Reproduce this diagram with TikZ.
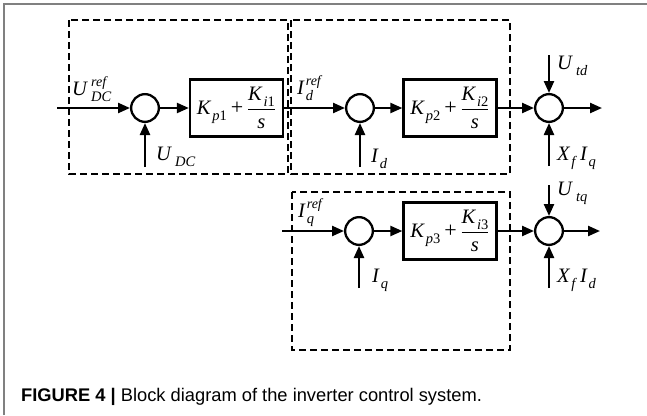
\documentclass[tikz,border=0pt]{standalone}
\usepackage{fontspec}
\setmainfont{Liberation Serif}
\newfontfamily\capfont{Liberation Sans}
\usetikzlibrary{arrows.meta}
\newcommand\sbs[1]{\raisebox{-0.3em}{\fontsize{14.5}{15}\selectfont #1}}
\newcommand\sps[1]{\raisebox{0.42em}{\fontsize{14}{15}\selectfont #1}}
\newcommand\blkexpr[2]{\textit{K}\sbs{\kern1pt\textit{p}#1}\kern4pt{\fontsize{22}{22}\selectfont +}\kern3.5pt$\displaystyle\frac{\hbox{\textit{K}\sbs{\kern1pt\textit{i}#2}}}{\hbox{\textit{s}}}$}
\begin{document}
\begin{tikzpicture}[x=1pt,y=-1pt,
  sumnode/.style={circle,draw,line width=2.3pt,minimum size=27.7pt,inner sep=0pt},
  blk/.style={draw,line width=2.3pt,minimum width=93pt,minimum height=57pt,inner sep=0pt,font=\fontsize{20.5}{23}\selectfont},
  sig/.style={line width=2.3pt,-{Triangle[length=12pt,width=10pt]}},
  grp/.style={draw,line width=2.2pt,dash pattern=on 7pt off 4pt},
  lbl/.style={anchor=base west,inner sep=0pt,font=\fontsize{20.5}{22}\selectfont}]
\useasboundingbox (0,0) rectangle (647,415);
\draw[gray,line width=1.2pt] (4,415) -- (4,4) -- (647,4);
% groups
\draw[grp] (69,20) rectangle (288,174);
\draw[grp] (291,20) rectangle (510,174);
\draw[grp] (292,192) rectangle (510,350);
% nodes
\node[sumnode] (s1) at (145,108) {};
\node[blk] (b1) at (236.5,108) {\blkexpr{1}{1}};
\node[sumnode] (s2) at (360,108) {};
\node[blk] (b2) at (450,108) {\blkexpr{2}{2}};
\node[sumnode] (s3) at (549,108) {};
\node[sumnode] (s5) at (359,231) {};
\node[blk] (b3) at (450,231) {\blkexpr{3}{3}};
\node[sumnode] (s4) at (549,231) {};
% free ends
\coordinate (in1) at (57,108);
\coordinate (out1) at (602,108);
\coordinate (in3) at (282,231);
\coordinate (out3) at (600,231);
\coordinate (udc) at (145,167);
\coordinate (idc) at (360,167);
\coordinate (utd) at (549,55);
\coordinate (xiq) at (549,166);
\coordinate (utq) at (549,185);
\coordinate (xid) at (549,288);
\coordinate (iqc) at (359,288);
% connectors
\draw[sig] (in1) -- (s1);
\draw[sig] (s1) -- (b1);
\draw[sig] (b1) -- (s2);
\draw[sig] (s2) -- (b2);
\draw[sig] (b2) -- (s3);
\draw[sig] (s3) -- (out1);
\draw[sig] (udc) -- (s1);
\draw[sig] (idc) -- (s2);
\draw[sig] (utd) -- (s3);
\draw[sig] (xiq) -- (s3);
\draw[sig] (in3) -- (s5);
\draw[sig] (s5) -- (b3);
\draw[sig] (b3) -- (s4);
\draw[sig] (s4) -- (out3);
\draw[sig] (iqc) -- (s5);
\draw[sig] (utq) -- (s4);
\draw[sig] (xid) -- (s4);
% labels
\node[lbl] (lUref) at (72,95) {\textit{U}\kern3pt\rlap{\sps{\textit{ref}}}\sbs{\textit{DC}}};
\node[lbl] (lUdc) at (156,160) {\textit{U}\kern3pt\sbs{\textit{DC}}};
\node[lbl] (lIdref) at (297,94) {\textit{I}\kern1pt\rlap{\sbs{\textit{d}}}\sps{\textit{ref}}};
\node[lbl] (lId) at (371,162) {\textit{I}\kern1pt\sbs{\textit{d}}};
\node[lbl] (lUtd) at (557,69) {\textit{U}\kern3pt\sbs{\textit{td}}};
\node[lbl] (lXIq) at (557,160) {\textit{X}\kern1pt\sbs{\textit{f}}\kern3pt\textit{I}\kern1pt\sbs{\textit{q}}};
\node[lbl] (lIqref) at (298,217) {\textit{I}\kern1pt\rlap{\sbs{\textit{q}}}\sps{\textit{ref}}};
\node[lbl] (lIq) at (372,282) {\textit{I}\kern1pt\sbs{\textit{q}}};
\node[lbl] (lUtq) at (557,195) {\textit{U}\kern3pt\sbs{\textit{tq}}};
\node[lbl] (lXId) at (557,282) {\textit{X}\kern1pt\sbs{\textit{f}}\kern3pt\textit{I}\kern1pt\sbs{\textit{d}}};
% caption
\node[anchor=base west,inner sep=0pt,font=\capfont\fontsize{18.3}{20}\selectfont] (cap) at (21,401) {\textbf{FIGURE 4 |} Block diagram of the inverter control system.};
\end{tikzpicture}
\end{document}
